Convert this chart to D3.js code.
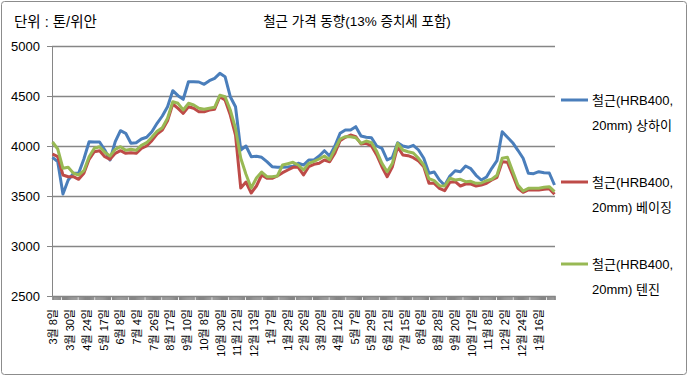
<!DOCTYPE html>
<html>
<head>
<meta charset="utf-8">
<script src="https://cdn.jsdelivr.net/npm/d3@7"></script>
<style>
  body { margin: 0; background: #fff; }
  svg { font-family: "Liberation Sans", "Noto Sans CJK KR", sans-serif; }
</style>
</head>
<body>
<div id="graf"></div>
<script>
// 데이터: 5거래일 간격으로 읽은 값 (위안/톤)
const step = 5
const totalDays = 481
const labelEvery = 16

const xLabels = ['3월 8일', '3월 30일', '4월 24일', '5월 17일', '6월 8일', '7월 4일',
  '7월 26일', '8월 17일', '9월 10일', '10월 8일', '10월 30일', '11월 21일', '12월 13일',
  '1월 7일', '1월 29일', '2월 26일', '3월 20일', '4월 12일', '5월 7일', '5월 29일',
  '6월 21일', '7월 15일', '8월 6일', '8월 28일', '9월 20일', '10월 17일', '11월 8일',
  '12월 2일', '12월 24일', '1월 16일']

const shanghai = [3887, 3843, 3520, 3660, 3727, 3727, 3870, 4043, 4040, 4040,
  3960, 3860, 4043, 4153, 4127, 4027, 4033, 4070, 4087, 4143,
  4227, 4300, 4393, 4553, 4503, 4467, 4643, 4643, 4640, 4617,
  4653, 4677, 4727, 4693, 4493, 4393, 3960, 4000, 3893, 3897,
  3887, 3843, 3793, 3787, 3787, 3790, 3797, 3827, 3810, 3860,
  3860, 3900, 3953, 3900, 4000, 4127, 4160, 4160, 4193, 4100,
  4087, 4083, 4000, 3977, 3860, 3887, 4033, 4000, 3987, 4007,
  3960, 3877, 3727, 3740, 3660, 3607, 3700, 3753, 3743, 3800,
  3773, 3707, 3660, 3690, 3777, 3853, 4143, 4087, 4033, 3957,
  3877, 3727, 3723, 3743, 3733, 3730, 3610]

const beijing = [3920, 3893, 3710, 3693, 3693, 3667, 3727, 3867, 3943, 3953,
  3893, 3867, 3927, 3953, 3927, 3933, 3927, 3977, 4000, 4053,
  4120, 4160, 4253, 4420, 4377, 4327, 4393, 4377, 4343, 4343,
  4360, 4367, 4493, 4460, 4310, 4110, 3580, 3640, 3530, 3600,
  3710, 3677, 3677, 3700, 3733, 3760, 3787, 3787, 3710, 3793,
  3817, 3827, 3860, 3843, 3927, 4053, 4087, 4110, 4093, 4020,
  4027, 4000, 3910, 3793, 3693, 3793, 3993, 3910, 3903, 3883,
  3850, 3793, 3627, 3627, 3577, 3553, 3637, 3643, 3600, 3620,
  3620, 3600, 3610, 3627, 3660, 3687, 3843, 3837, 3710, 3577,
  3537, 3560, 3560, 3560, 3567, 3573, 3517]

const tianjin = [4040, 3970, 3777, 3787, 3727, 3710, 3753, 3893, 3977, 3993,
  3937, 3900, 3967, 3993, 3957, 3967, 3957, 4007, 4033, 4087,
  4147, 4183, 4277, 4443, 4427, 4360, 4427, 4410, 4377, 4367,
  4377, 4387, 4507, 4493, 4360, 4177, 3877, 3717, 3580, 3680,
  3740, 3693, 3693, 3700, 3810, 3823, 3837, 3810, 3760, 3827,
  3847, 3870, 3900, 3863, 3967, 4070, 4093, 4093, 4083, 4027,
  4050, 4033, 3947, 3827, 3743, 3827, 4027, 3960, 3943, 3930,
  3877, 3810, 3673, 3653, 3603, 3600, 3677, 3660, 3667, 3643,
  3647, 3627, 3630, 3653, 3667, 3707, 3877, 3887, 3747, 3610,
  3550, 3577, 3577, 3577, 3587, 3593, 3543]

const seriesNames = ['철근(HRB400,|20mm) 상하이', '철근(HRB400,|20mm) 베이징', '철근(HRB400,|20mm) 텐진']
const seriesColors = ['#4a7ebb', '#be4b48', '#98b954']
const yTicks = [2500, 3000, 3500, 4000, 4500, 5000]

const ancho_total = 688
const alto_total = 376
const margins = { top: 46, left: 52, right: 133, bottom: 80 }
const ancho = ancho_total - margins.left - margins.right
const alto = alto_total - margins.top - margins.bottom

const svg = d3.select('#graf').append('svg')
  .attr('width', ancho_total)
  .attr('height', alto_total)

// marco exterior
svg.append('rect')
  .attr('x', 1.5).attr('y', 1.5)
  .attr('width', ancho_total - 3).attr('height', alto_total - 3)
  .attr('rx', 3)
  .attr('fill', '#fff')
  .attr('stroke', '#8c8c8c')

const g = svg.append('g')
  .attr('transform', `translate(${margins.left}, ${margins.top})`)

const x = d3.scaleLinear().domain([0, totalDays - 1]).range([0.5, ancho - 0.5])
const y = d3.scaleLinear().domain([2500, 5000]).range([alto, 0])

// líneas de cuadrícula + eje y
const yAxis = g.append('g')
  .call(d3.axisLeft(y).tickValues(yTicks).tickSize(5).tickPadding(7).tickFormat(d3.format('d')))
yAxis.select('.domain').attr('stroke', '#868686')
yAxis.selectAll('.tick line').attr('stroke', '#868686')
yAxis.selectAll('.tick text')
  .attr('font-size', 13).attr('fill', '#000')

g.append('g')
  .selectAll('line')
  .data(yTicks.slice(1))
  .join('line')
  .attr('x1', 0).attr('x2', ancho)
  .attr('y1', d => Math.round(y(d)) + 0.5).attr('y2', d => Math.round(y(d)) + 0.5)
  .attr('stroke', '#868686')
  .attr('stroke-width', 1.3)

// eje x: marcas densas
const tickDays = d3.range(0, totalDays).filter(d => d % labelEvery !== labelEvery / 2)
const xAxis = g.append('g')
  .attr('transform', `translate(0, ${alto})`)
  .call(d3.axisBottom(x).tickValues(tickDays).tickSize(4).tickFormat(''))
xAxis.select('.domain').attr('stroke', '#868686').attr('stroke-width', 1.3)
xAxis.selectAll('.tick line').attr('stroke', '#868686').attr('stroke-width', 1.2)

g.append('g')
  .selectAll('text')
  .data(xLabels)
  .join('text')
  .attr('transform', (d, i) => `translate(${x(i * labelEvery) + 1}, ${alto + 13}) rotate(-90)`)
  .attr('text-anchor', 'end')
  .attr('dy', '0.35em')
  .attr('font-size', 11)
  .text(d => d)

// series
const lineaGen = d3.line()
  .x((d, i) => x(i * step))
  .y(d => y(d))

const allSeries = [shanghai, beijing, tianjin]
g.selectAll('.serie')
  .data(allSeries)
  .join('path')
  .attr('class', 'serie')
  .attr('fill', 'none')
  .attr('stroke', (d, i) => seriesColors[i])
  .attr('stroke-width', 3)
  .attr('stroke-linejoin', 'round')
  .attr('d', d => lineaGen(d))

// títulos
svg.append('text')
  .attr('x', 14).attr('y', 27)
  .attr('font-size', 14.5)
  .text('단위 : 톤/위안')

svg.append('text')
  .attr('x', 357).attr('y', 26)
  .attr('text-anchor', 'middle')
  .attr('font-size', 13.5)
  .text('철근 가격 동향(13% 증치세 포함)')

// leyenda
const legend = svg.append('g')
  .selectAll('g')
  .data(seriesNames)
  .join('g')
  .attr('transform', (d, i) => `translate(561, ${100 + i * 82})`)

legend.append('line')
  .attr('x1', 0).attr('x2', 27)
  .attr('stroke', (d, i) => seriesColors[i])
  .attr('stroke-width', 3)

legend.append('text')
  .attr('x', 31)
  .attr('font-size', 13)
  .selectAll('tspan')
  .data(d => d.split('|'))
  .join('tspan')
  .attr('x', 31)
  .attr('y', (d, i) => 5 + i * 25)
  .text(d => d)
</script>
</body>
</html>
